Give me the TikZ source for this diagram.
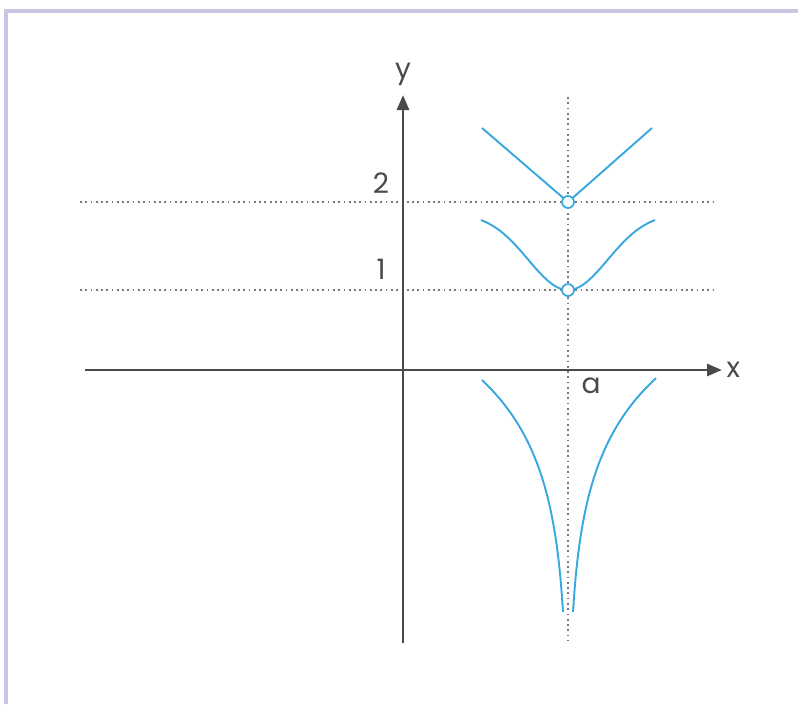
\documentclass[tikz,border=0pt]{standalone}
\usepackage{fontspec}
\setmainfont{Poppins}
\definecolor{axisgray}{HTML}{4A4A4A}
\definecolor{guidegray}{HTML}{7A7A7A}
\definecolor{curveblue}{HTML}{3AA8E0}
\definecolor{framelt}{HTML}{C9C5E2}
\usetikzlibrary{arrows.meta,positioning}

\begin{document}
\begin{tikzpicture}[
  x=0.02cm, y=-0.02cm,
  axis/.style={-{Triangle[length=0.3cm,width=0.24cm]}, axisgray, line width=1.6pt},
  guide/.style={guidegray, dotted, line width=1pt},
  curve/.style={curveblue, line width=1.1pt},
  hole/.style={circle, draw=curveblue, fill=white, line width=1pt,
    inner sep=0pt, minimum size=0.24cm},
  lbl/.style={font=\fontsize{16}{18}\selectfont, text=axisgray, inner sep=1pt},
]
  \useasboundingbox (0,0) rectangle (798,704);
  % frame
  \draw[framelt, line width=2pt] (6,704) -- (6,11) -- (798,11);

  % guide lines
  \coordinate (vtop) at (568,97);  \coordinate (vbot) at (568,640);
  \coordinate (h2l) at (80,202);   \coordinate (h2r) at (715,202);
  \coordinate (h1l) at (80,290);   \coordinate (h1r) at (715,290);
  \draw[guide] (vtop) -- (vbot);
  \draw[guide] (h2l) -- (h2r);
  \draw[guide] (h1l) -- (h1r);

  % axes
  \coordinate (xl) at (85,370);  \coordinate (xr) at (722,370);
  \coordinate (yb) at (403,643); \coordinate (yt) at (403,95);
  \draw[axis] (xl) -- (xr);
  \draw[axis] (yb) -- (yt);
  \node[lbl, right=0.05cm of xr] (xlab) {x};
  \node[lbl, above=0.15cm of yt] (ylab) {y};
  \node[lbl] (two) at (381,183) {2};
  \node[lbl] (one) at (381,269) {1};
  \node[lbl] (alab) at (591,386) {a};

  % curves
  \draw[curve] (482,128) -- (568,202) -- (652,128);
  \draw[curve] plot[domain=-1:1, samples=60, smooth]
    ({568+87*\x},{290-70*(1-exp(-2.4*\x*\x))/(1-exp(-2.4))});
  \draw[curve] plot[domain=86:5, samples=60, smooth]
    ({568-\x},{380+81.5*ln(86/\x)});
  \draw[curve] plot[domain=88:5, samples=60, smooth]
    ({568+\x},{380+81.5*ln(86/\x)});

  % removed points
  \node[hole] (p2) at (568,202) {};
  \node[hole] (p1) at (568,290) {};
\end{tikzpicture}
\end{document}
